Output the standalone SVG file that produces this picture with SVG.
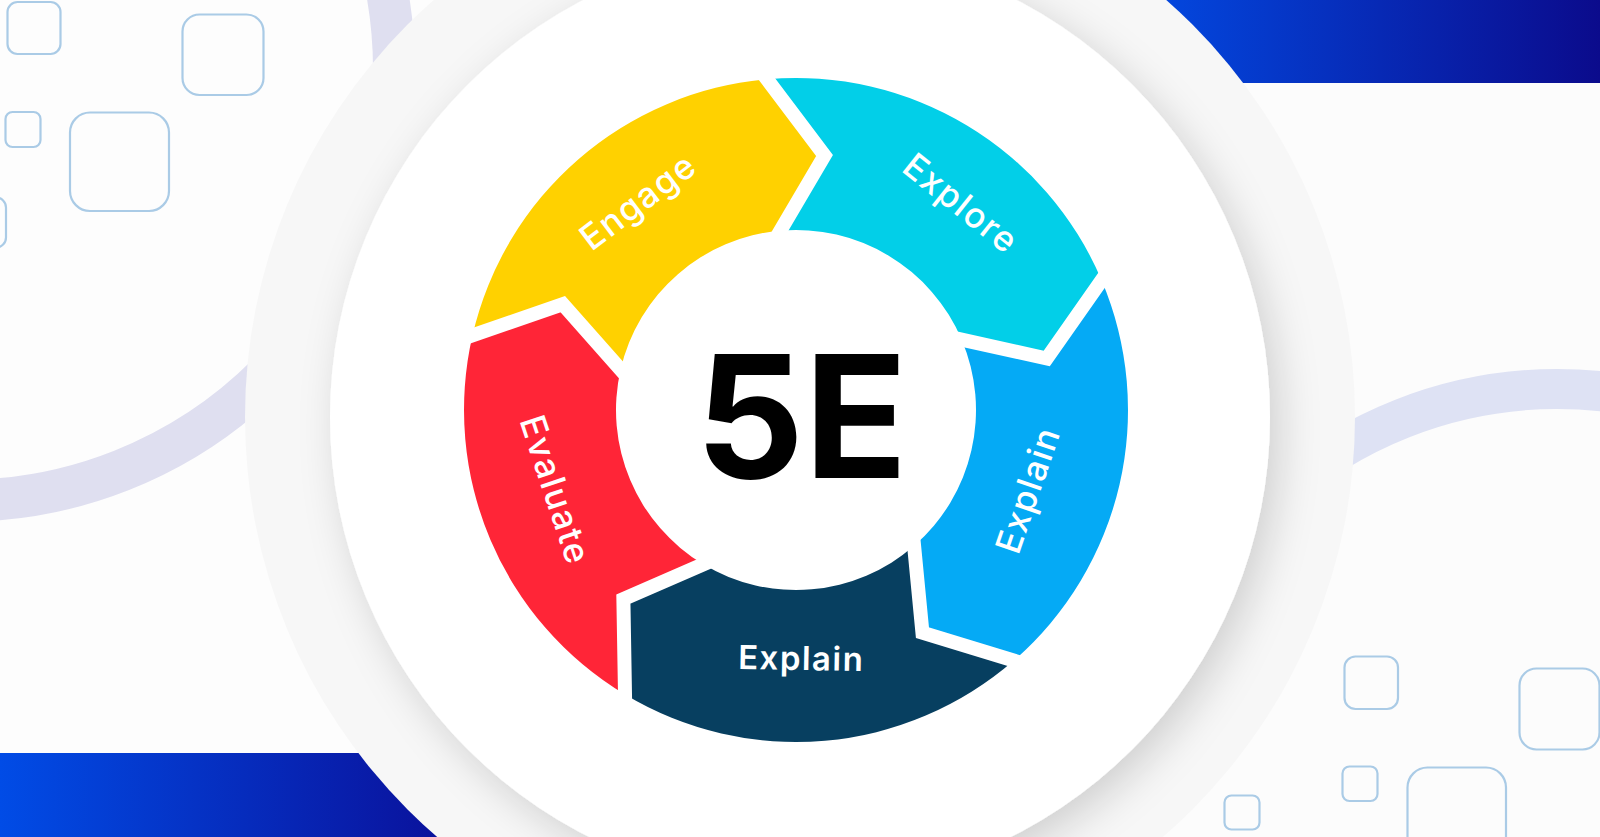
<svg xmlns="http://www.w3.org/2000/svg" width="1600" height="837" viewBox="0 0 1600 837">
  <defs>
    <linearGradient id="bandTop" gradientUnits="userSpaceOnUse" x1="1160" y1="0" x2="1600" y2="0">
      <stop offset="0" stop-color="#0347de"/>
      <stop offset="1" stop-color="#0b0b8c"/>
    </linearGradient>
    <linearGradient id="bandBot" gradientUnits="userSpaceOnUse" x1="0" y1="0" x2="440" y2="0">
      <stop offset="0" stop-color="#014ce6"/>
      <stop offset="1" stop-color="#0a129c"/>
    </linearGradient>
    <filter id="shadow" x="-20%" y="-20%" width="140%" height="140%">
      <feDropShadow dx="10" dy="12" stdDeviation="20" flood-color="#000" flood-opacity="0.16"/>
    </filter>
  </defs>
  <style>
    .sq { fill: none; stroke: #aacbe6; stroke-width: 2.2; }
    .lav { fill: none; }
    .lbl { font-family: Inter, "Liberation Sans", sans-serif; font-weight: 500; font-size: 35px; fill: #ffffff; text-anchor: middle; letter-spacing: 1.5px; }
    .lblb { font-family: Inter, "Open Sans", sans-serif; font-weight: 600; font-size: 33px; fill: #ffffff; text-anchor: middle; letter-spacing: 1.5px; }
    .big { font-family: Inter, "Liberation Sans", sans-serif; font-weight: 700; font-size: 170px; fill: #000000; text-anchor: middle; }
    .gap { fill: none; stroke: #ffffff; stroke-width: 14; stroke-linejoin: miter; stroke-linecap: square; }
  </style>

  <!-- background -->
  <rect x="0" y="0" width="1600" height="837" fill="#fcfcfc"/>
  <rect x="0" y="0" width="560" height="753" fill="#fdfdfd"/>
  <rect x="1100" y="0" width="500" height="83" fill="url(#bandTop)"/>
  <rect x="0" y="753" width="500" height="84" fill="url(#bandBot)"/>
  <circle class="lav" cx="-37.5" cy="69.3" r="431.5" stroke="#dfdff0" stroke-width="42"/>
  <circle class="lav" cx="1557" cy="810" r="421" stroke="#dee2f4" stroke-width="40"/>

  <g id="squares">
    <rect class="sq" x="7.5" y="2" width="53" height="52" rx="10"/>
    <rect class="sq" x="182.5" y="14.5" width="81" height="80.5" rx="17"/>
    <rect class="sq" x="5.5" y="112" width="35" height="35" rx="7"/>
    <rect class="sq" x="70" y="112.5" width="99" height="98.5" rx="20"/>
    <rect class="sq" x="-45" y="197.5" width="51" height="50" rx="10"/>
    <rect class="sq" x="1344.5" y="656.5" width="53.5" height="52.5" rx="11"/>
    <rect class="sq" x="1519.5" y="668.5" width="80" height="81" rx="17"/>
    <rect class="sq" x="1342.5" y="766.5" width="35" height="34.5" rx="7"/>
    <rect class="sq" x="1407.5" y="767.5" width="98.5" height="99" rx="20"/>
    <rect class="sq" x="1224.5" y="795.5" width="35" height="34" rx="7"/>
  </g>

  <circle cx="800" cy="417" r="555" fill="#f7f7f7"/>
  <circle cx="800" cy="417" r="470" fill="#ffffff" filter="url(#shadow)"/>

  <!-- wheel -->
  <g id="engage">
    <path d="M472.51,335.32 L562.87,304.25 L620.61,369.51 A180,180 0 0 1 780.31,230.69 L824.54,155.59 L767.06,79.27 A332,332 0 0 0 472.51,335.32 Z" fill="#ffd100"/>
    <text class="lbl" transform="translate(640,204) rotate(-37.1)" y="9">Engage</text>
  </g>
  <g id="explore">
    <path d="M767.06,79.27 L824.54,155.59 L780.31,230.69 A180,180 0 0 1 961.69,339.67 L1046.77,358.52 L1101.61,280.28 A332,332 0 0 0 767.06,79.27 Z" fill="#02cfe8"/>
    <text class="lbl" transform="translate(959,206) rotate(38.6)" y="9">Explore</text>
  </g>
  <g id="explain-right">
    <path d="M1101.61,280.28 L1046.77,358.52 L961.69,339.67 A180,180 0 0 1 914.09,545.85 L922.45,632.59 L1013.81,660.56 A332,332 0 0 0 1101.61,280.28 Z" fill="#05aaf5"/>
    <text class="lbl" transform="translate(1031,491) rotate(-71)" y="9">Explain</text>
  </g>
  <g id="explain-bottom">
    <path d="M1013.81,660.56 L922.45,632.59 L914.09,545.85 A180,180 0 0 1 703.29,564.29 L623.38,599.05 L625.01,694.58 A332,332 0 0 0 1013.81,660.56 Z" fill="#073f60"/>
    <text class="lblb" transform="translate(801,670) rotate(1)" y="0">Explain</text>
  </g>
  <g id="evaluate">
    <path d="M625.01,694.58 L623.38,599.05 L703.29,564.29 A180,180 0 0 1 620.61,369.51 L562.87,304.25 L472.51,335.32 A332,332 0 0 0 625.01,694.58 Z" fill="#ff2537"/>
    <text class="lbl" transform="translate(555,490) rotate(71.6)" y="12">Evaluate</text>
  </g>

  <g id="connectors">
    <polyline class="gap" points="472.51,335.32 562.87,304.25 620.61,369.51"/>
    <polyline class="gap" points="767.06,79.27 824.54,155.59 780.31,230.69"/>
    <polyline class="gap" points="1101.61,280.28 1046.77,358.52 961.69,339.67"/>
    <polyline class="gap" points="1013.81,660.56 922.45,632.59 914.09,545.85"/>
    <polyline class="gap" points="625.01,694.58 623.38,599.05 703.29,564.29"/>
  </g>

  <g id="center">
    <text class="big" x="801.5" y="478">5E</text>
  </g>
</svg>
